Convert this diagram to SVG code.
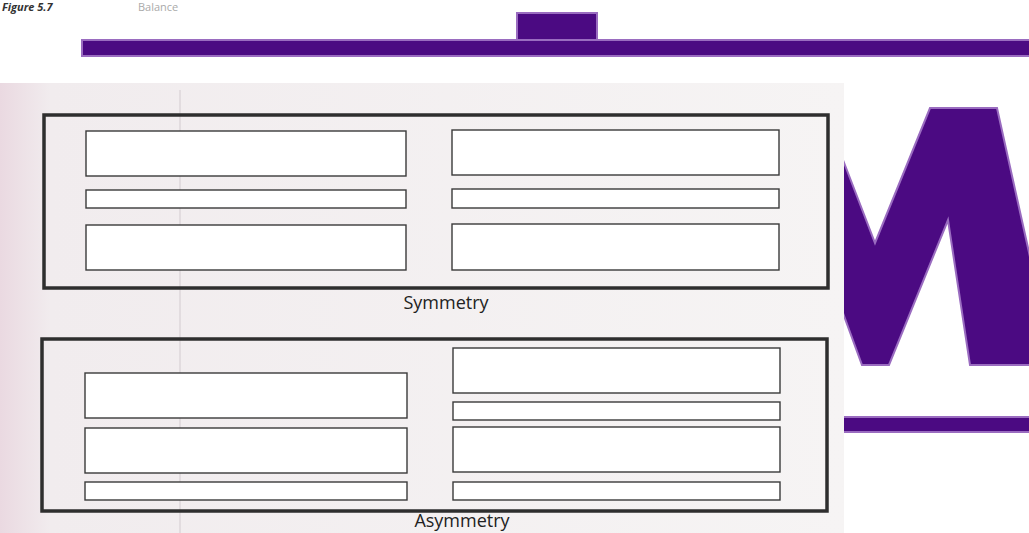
<svg xmlns="http://www.w3.org/2000/svg" width="1029" height="533" viewBox="0 0 1029 533">
  <defs>
    <style>
      .frame { fill: none; stroke: #2e2e2e; stroke-width: 3.5; }
      .box { fill: #ffffff; stroke: #3a3a3a; stroke-width: 1.4; }
      .lbl { font-family: "Open Sans", "Liberation Sans", sans-serif; font-size: 18px; fill: #222; text-anchor: middle; }
      .purple { fill: #4b0a82; stroke: #9a6cc0; stroke-width: 2; }
      .cap { font-family: "Open Sans", "Liberation Sans", sans-serif; font-size: 11px; }
    </style>
    <linearGradient id="paper" x1="0" y1="0" x2="1" y2="0">
      <stop offset="0" stop-color="#ead9e1"/>
      <stop offset="0.06" stop-color="#f1ecee"/>
      <stop offset="1" stop-color="#f6f4f4"/>
    </linearGradient>
  </defs>
  <rect width="1029" height="533" fill="#ffffff"/>

  <g id="top-caption">
    <text class="cap" x="2" y="11" font-weight="bold" font-style="italic" fill="#333">Figure 5.7</text>
    <text class="cap" x="138" y="11" fill="#aaa">Balance</text>
  </g>

  <g id="logo-bars">
    <rect class="purple" x="517" y="13" width="80" height="32"/>
    <rect class="purple" x="82" y="40" width="948" height="16"/>
    <rect class="purple" x="843" y="417" width="187" height="15"/>
    <polygon class="purple" points="930,108 997,108 1030,257 1030,365 970,365 948,220 889,365 862,365 843,313 843,160 875,243"/>
  </g>

  <g id="paper">
    <rect x="0" y="83" width="844" height="450" fill="url(#paper)"/>
    <line x1="180" y1="90" x2="180" y2="533" stroke="#e2dcdf" stroke-width="2"/>
  </g>

  <g id="symmetry">
    <rect class="frame" x="44" y="115" width="784" height="173"/>
    <rect class="box" x="86" y="131" width="320" height="45"/>
    <rect class="box" x="86" y="190" width="320" height="18"/>
    <rect class="box" x="86" y="225" width="320" height="45"/>
    <rect class="box" x="452" y="130" width="327" height="45"/>
    <rect class="box" x="452" y="189" width="327" height="19"/>
    <rect class="box" x="452" y="224" width="327" height="46"/>
    <text class="lbl" x="446" y="309">Symmetry</text>
  </g>

  <g id="asymmetry">
    <rect class="frame" x="42" y="339" width="785" height="172"/>
    <rect class="box" x="85" y="373" width="322" height="45"/>
    <rect class="box" x="85" y="428" width="322" height="45"/>
    <rect class="box" x="85" y="482" width="322" height="18"/>
    <rect class="box" x="453" y="348" width="327" height="45"/>
    <rect class="box" x="453" y="402" width="327" height="18"/>
    <rect class="box" x="453" y="427" width="327" height="45"/>
    <rect class="box" x="453" y="482" width="327" height="18"/>
    <text class="lbl" x="462" y="527">Asymmetry</text>
  </g>
</svg>
